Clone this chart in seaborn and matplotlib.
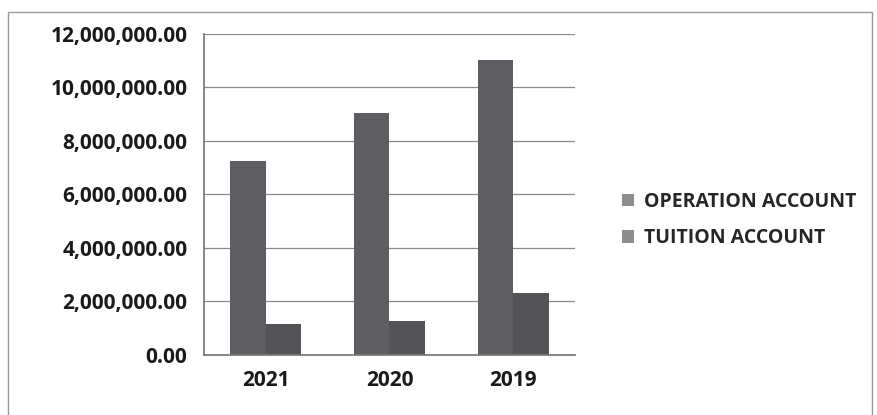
import matplotlib
matplotlib.use("Agg")
import matplotlib.pyplot as plt
import seaborn as sns
import pandas as pd
from matplotlib.ticker import FuncFormatter, FixedLocator

years = ["2021", "2020", "2019"]
operation = [7250000, 9060000, 11030000]
tuition = [1160000, 1270000, 2320000]
series = ["OPERATION ACCOUNT", "TUITION ACCOUNT"]

df = pd.DataFrame({
    "year": years * 2,
    "amount": operation + tuition,
    "account": [series[0]] * 3 + [series[1]] * 3,
})

sns.set_theme(style="white")
plt.rcParams["font.family"] = ["Open Sans", "DejaVu Sans"]

fig = plt.figure(figsize=(8.77, 4.15), dpi=100)
ax = fig.add_axes([0.2326, 0.1446, 0.4230, 0.7736])

sns.barplot(data=df, x="year", y="amount", hue="account",
            palette=["#5e5e62", "#545458"], width=0.575, gap=0,
            saturation=1, linewidth=0, ax=ax, legend=True)

ax.set_ylim(0, 12000000)
ax.set_yticks(range(0, 12000001, 2000000))
ax.yaxis.set_major_formatter(FuncFormatter(lambda v, p: f"{v:,.2f}"))
ax.grid(axis="y", color="#8a8a8a", linewidth=0.9)
ax.set_axisbelow(True)
ax.set_xlabel("")
ax.set_ylabel("")

for s in ["top", "right"]:
    ax.spines[s].set_visible(False)
ax.spines["left"].set_color("#777777")
ax.spines["bottom"].set_color("#777777")

ax.tick_params(axis="y", direction="out", length=6, width=0.9, color="#777777", pad=6, labelsize=15)
ax.tick_params(axis="x", length=0, pad=11, labelsize=15)
for lab in ax.get_yticklabels() + ax.get_xticklabels():
    lab.set_fontweight("bold")
    lab.set_color("#1a1a1a")

# category boundary ticks like the spreadsheet original
ax.xaxis.set_minor_locator(FixedLocator([-0.5, 0.5, 1.5, 2.5]))
ax.tick_params(axis="x", which="minor", direction="out", length=5, width=0.9, color="#777777")
ax.set_xlim(-0.5, 2.5)

leg = ax.legend(loc="center left", bbox_to_anchor=(1.08, 0.42), frameon=False,
                handlelength=0.6, handleheight=0.6, handletextpad=0.5,
                labelspacing=0.85, prop={"weight": "bold", "size": 14})
for h in leg.legend_handles:
    h.set_color("#8e8e8e")

# outer border of the chart area
fig.patches.append(plt.Rectangle((0.009, -0.05), 0.985, 1.02, transform=fig.transFigure,
                                 fill=False, edgecolor="#999999", linewidth=1.0))

fig.savefig("out.png", dpi=100)
